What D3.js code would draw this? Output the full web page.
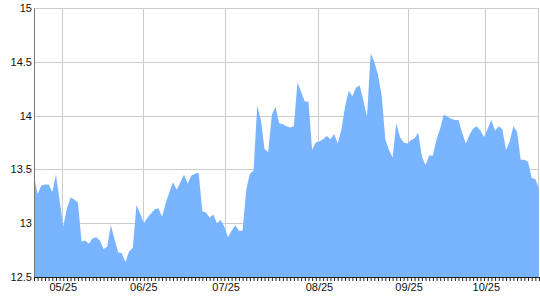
<!DOCTYPE html>
<html>
<head>
<meta charset="utf-8">
<script src="https://cdn.jsdelivr.net/npm/d3@7"></script>
<style>
  body { margin: 0; background: #fff; }
  text { font-family: Arial, "Liberation Sans", sans-serif; font-size: 11px; fill: #111; }
</style>
</head>
<body>
<div id="chart"></div>
<script>
// daily values, one per trading day
var values = [
  13.44, 13.27, 13.35, 13.36, 13.36, 13.29, 13.45, 13.21, 12.97, 13.14,
  13.24, 13.22, 13.19, 12.83, 12.84, 12.81, 12.86, 12.87, 12.84, 12.76,
  12.78, 12.98, 12.85, 12.73, 12.72, 12.64, 12.74, 12.77, 13.17, 13.09,
  13.00, 13.05, 13.09, 13.13, 13.14, 13.06, 13.19, 13.29, 13.38, 13.31,
  13.38, 13.45, 13.37, 13.44, 13.46, 13.47, 13.11, 13.10, 13.05, 13.08,
  13.00, 13.03, 12.97, 12.87, 12.93, 12.98, 12.93, 12.93, 13.31, 13.46,
  13.49, 14.09, 13.96, 13.69, 13.66, 14.01, 14.08, 13.93, 13.92, 13.90,
  13.89, 13.90, 14.31, 14.22, 14.13, 14.13, 13.68, 13.75, 13.76, 13.78,
  13.81, 13.78, 13.83, 13.74, 13.87, 14.08, 14.23, 14.18, 14.26, 14.28,
  14.14, 13.99, 14.58, 14.50, 14.38, 14.19, 13.78, 13.68, 13.61, 13.93,
  13.80, 13.75, 13.74, 13.77, 13.79, 13.84, 13.62, 13.54, 13.63, 13.63,
  13.78, 13.88, 14.01, 13.99, 13.97, 13.96, 13.96, 13.84, 13.74, 13.82,
  13.88, 13.90, 13.86, 13.80, 13.88, 13.96, 13.86, 13.90, 13.87, 13.68,
  13.76, 13.90, 13.85, 13.59, 13.59, 13.57, 13.42, 13.41, 13.32
];

// date labels and the day index they sit on
var xLabels = ['05/25', '06/25', '07/25', '08/25', '09/25', '10/25'];
var xLabelIdx = [8, 30, 52.5, 78, 102.5, 123.6];

// y axis ticks
var yTicks = [12.5, 13, 13.5, 14, 14.5, 15];

var svgWidth = 540;
var svgHeight = 300;
var margin = { top: 8, right: 1, bottom: 23, left: 34 };
var width = svgWidth - margin.left - margin.right;
var height = svgHeight - margin.top - margin.bottom;

var svg = d3.select('#chart')
  .append('svg')
  .attr('width', svgWidth)
  .attr('height', svgHeight);

var chartGroup = svg.append('g')
  .attr('transform', `translate(${margin.left}, ${margin.top})`);

// scales
var xScale = d3.scaleLinear()
  .domain([0, values.length - 1])
  .range([0, width]);

var yScale = d3.scaleLinear()
  .domain([12.5, 15])
  .range([height, 0]);

// grid lines
chartGroup.append('g')
  .selectAll('line.hgrid')
  .data(yTicks)
  .enter()
  .append('line')
  .attr('x1', 0)
  .attr('x2', width)
  .attr('y1', d => Math.round(yScale(d)) + 0.5)
  .attr('y2', d => Math.round(yScale(d)) + 0.5)
  .attr('stroke', '#cccccc');

chartGroup.append('g')
  .selectAll('line.vgrid')
  .data(xLabelIdx.concat([values.length - 1]))
  .enter()
  .append('line')
  .attr('x1', d => Math.round(xScale(d)) - 0.5)
  .attr('x2', d => Math.round(xScale(d)) - 0.5)
  .attr('y1', 0)
  .attr('y2', height)
  .attr('stroke', '#cccccc');

// area
var area = d3.area()
  .x((d, i) => xScale(i))
  .y0(yScale(12.5))
  .y1(d => yScale(d));

chartGroup.append('path')
  .datum(values)
  .attr('d', area)
  .attr('fill', '#78b4ff');

// y axis
var leftAxis = d3.axisLeft(yScale)
  .tickValues(yTicks)
  .tickSize(0)
  .tickPadding(2)
  .tickFormat(d3.format('~g'));

var yAxis = chartGroup.append('g').call(leftAxis);
yAxis.select('.domain').attr('stroke', '#777777');
yAxis.selectAll('text').attr('fill', '#111');

// x axis: a small tick for every day
var bottomAxis = d3.axisBottom(xScale)
  .tickValues(d3.range(values.length))
  .tickSize(4)
  .tickSizeOuter(0)
  .tickFormat('');

var xAxis = chartGroup.append('g')
  .attr('transform', `translate(0, ${height})`)
  .call(bottomAxis);
xAxis.select('.domain').attr('stroke', '#222');
xAxis.selectAll('.tick line').attr('stroke', '#222');

// date labels
chartGroup.append('g')
  .selectAll('text.xlab')
  .data(xLabels)
  .enter()
  .append('text')
  .attr('x', (d, i) => xScale(xLabelIdx[i]))
  .attr('y', height + 14)
  .attr('text-anchor', 'middle')
  .text(d => d);
</script>
</body>
</html>
